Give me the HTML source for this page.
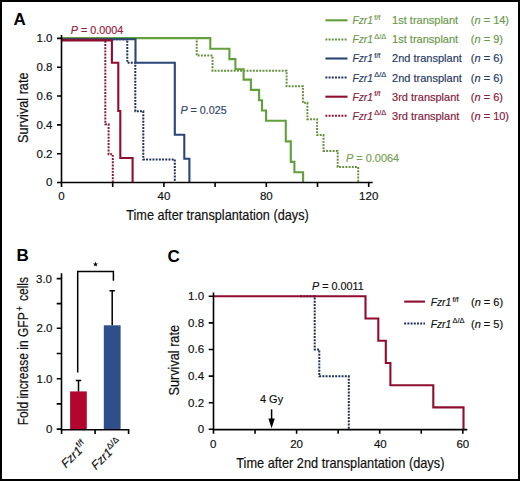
<!DOCTYPE html>
<html>
<head>
<meta charset="utf-8">
<style>
html,body{margin:0;padding:0;background:#fff;}
body{width:520px;height:481px;overflow:hidden;}
svg{display:block;font-family:"Liberation Sans",sans-serif;}
.ax{stroke:#000;stroke-width:1.6;fill:none;stroke-linecap:butt;}
.tk{font-size:11px;color:#111;fill:currentColor;stroke:currentColor;stroke-width:0.18px;}
.tt{font-size:14.6px;fill:#111;stroke:#111;stroke-width:0.2px;}
.lb{font-size:17px;font-weight:bold;fill:#000;}
.it{font-style:italic;}
.sol{fill:none;stroke-width:2.1;stroke-linejoin:miter;stroke-linecap:butt;}
.dot{fill:none;stroke-width:2;stroke-dasharray:1.95 1.25;stroke-linecap:butt;}
</style>
</head>
<body>
<svg width="520" height="481" viewBox="0 0 520 481">
<rect x="1" y="1" width="518" height="479" fill="#fff" stroke="#000" stroke-width="2"/>

<!-- ================= PANEL A ================= -->
<text class="lb" x="13.6" y="25">A</text>

<!-- curves: green -->
<path class="dot" stroke="#66903f" d="M61.5,38.1 H196.7 V55.5 H212.5 V70.7 H286.6 V86.3 H302.9 V102.8 H307.4 V119.2 H317.1 V135.1 H323.5 V151 H337.7 V167 H358.2 V182.5"/>
<path class="sol" stroke="#62a03c" d="M61.5,38.1 H210.3 V48.8 H229.4 V59.1 H235.4 V69.3 H243.6 V79.6 H250.9 V89.9 H259.1 V100.2 H262 V110.5 H266.1 V120.8 H285.8 V141.4 H290.8 V161.9 H294.4 V172.2 H303.1 V182.5"/>
<!-- blue -->
<path class="dot" stroke="#1e2e58" d="M61.5,39.3 H127.3 V62.8 H135.3 V111.2 H143.3 V159.5 H174.8 V182.5"/>
<path class="sol" stroke="#2a4676" d="M61.5,39.3 H135.5 V62.8 H174.8 V134.7 H184.3 V158.8 H189.4 V182.5"/>
<!-- red -->
<path class="dot" stroke="#8a1838" d="M61.5,39.8 H105.3 V124.3 H108.6 V154.3 H112.8 V182.5"/>
<path class="sol" stroke="#8f0e2f" d="M61.5,40.4 H111.9 V62.8 H118.3 V111 H120.3 V158 H132.6 V182.5"/>

<!-- axes A -->
<path class="ax" d="M61.5,35 V183.3 M60.7,182.5 H372.7"/>
<path class="ax" d="M57,38.4 H61.5 M57,67.2 H61.5 M57,96.0 H61.5 M57,124.9 H61.5 M57,153.7 H61.5 M57,182.5 H61.5"/>
<path class="ax" d="M61.5,182.5 V187 M112.7,182.5 V187 M163.9,182.5 V187 M215.1,182.5 V187 M266.3,182.5 V187 M317.5,182.5 V187 M368.7,182.5 V187"/>
<g class="tk" text-anchor="end" style="font-size:11.5px">
<text x="52.5" y="42.3">1.0</text>
<text x="52.5" y="71.1">0.8</text>
<text x="52.5" y="99.9">0.6</text>
<text x="52.5" y="128.8">0.4</text>
<text x="52.5" y="157.6">0.2</text>
<text x="52.5" y="186.4">0</text>
</g>
<g class="tk" text-anchor="middle" style="font-size:11.5px">
<text x="61.5" y="200.4">0</text>
<text x="163.9" y="200.4">40</text>
<text x="266.3" y="200.4">80</text>
<text x="368.7" y="200.4">120</text>
</g>
<text class="tt" x="126.2" y="219.6" textLength="182.6" lengthAdjust="spacingAndGlyphs">Time after transplantation (days)</text>
<text class="tt" transform="translate(28,143) rotate(-90)" x="0" y="0" textLength="70.5" lengthAdjust="spacingAndGlyphs">Survival rate</text>

<!-- P values A -->
<text class="tk" x="70.8" y="34" style="color:#9a2040" textLength="52.5" lengthAdjust="spacingAndGlyphs"><tspan class="it">P</tspan> = 0.0004</text>
<text class="tk" x="180.5" y="113.8" style="color:#344668" textLength="46.2" lengthAdjust="spacingAndGlyphs"><tspan class="it">P</tspan> = 0.025</text>
<text class="tk" x="346" y="161.8" style="color:#7aa055" textLength="53.2" lengthAdjust="spacingAndGlyphs"><tspan class="it">P</tspan> = 0.0064</text>

<!-- legend A -->
<path class="sol" stroke="#62a03c" d="M325.4,20.3 H347.5"/>
<path class="dot" stroke="#66903f" d="M325.4,39.4 H346.8"/>
<path class="sol" stroke="#2a4676" d="M325.4,58.5 H347.5"/>
<path class="dot" stroke="#1e2e58" d="M325.4,77.6 H346.8"/>
<path class="sol" stroke="#8f0e2f" d="M325.4,96.7 H347.5"/>
<path class="dot" stroke="#8a1838" d="M325.4,115.8 H346.8"/>
<g class="tk">
<g style="color:#6c984b"><text class="it" x="352.5" y="24.3" textLength="20.4" lengthAdjust="spacingAndGlyphs">Fzr1</text><text x="374.2" y="19.8" style="font-size:7.5px">f/f</text><text x="392.1" y="24.3">1st transplant</text><text x="470.8" y="24.3">(<tspan class="it">n</tspan> = 14)</text></g>
<g style="color:#6c984b"><text class="it" x="352.5" y="43.4" textLength="20.4" lengthAdjust="spacingAndGlyphs">Fzr1</text><text x="374.2" y="38.9" style="font-size:7.5px">Δ/Δ</text><text x="392.1" y="43.4">1st transplant</text><text x="470.8" y="43.4">(<tspan class="it">n</tspan> = 9)</text></g>
<g style="color:#283a62"><text class="it" x="352.5" y="62.4" textLength="20.4" lengthAdjust="spacingAndGlyphs">Fzr1</text><text x="374.2" y="57.9" style="font-size:7.5px">f/f</text><text x="392.1" y="62.4">2nd transplant</text><text x="470.8" y="62.4">(<tspan class="it">n</tspan> = 6)</text></g>
<g style="color:#283a62"><text class="it" x="352.5" y="81.5" textLength="20.4" lengthAdjust="spacingAndGlyphs">Fzr1</text><text x="374.2" y="77.0" style="font-size:7.5px">Δ/Δ</text><text x="392.1" y="81.5">2nd transplant</text><text x="470.8" y="81.5">(<tspan class="it">n</tspan> = 6)</text></g>
<g style="color:#85203c"><text class="it" x="352.5" y="100.5" textLength="20.4" lengthAdjust="spacingAndGlyphs">Fzr1</text><text x="374.2" y="96.0" style="font-size:7.5px">f/f</text><text x="392.1" y="100.5">3rd transplant</text><text x="470.8" y="100.5">(<tspan class="it">n</tspan> = 6)</text></g>
<g style="color:#85203c"><text class="it" x="352.5" y="119.6" textLength="20.4" lengthAdjust="spacingAndGlyphs">Fzr1</text><text x="374.2" y="115.1" style="font-size:7.5px">Δ/Δ</text><text x="392.1" y="119.6">3rd transplant</text><text x="470.8" y="119.6">(<tspan class="it">n</tspan> = 10)</text></g>
</g>

<!-- ================= PANEL B ================= -->
<text class="lb" x="16.5" y="261.3">B</text>
<rect x="70.1" y="391.4" width="16.7" height="38" fill="#b2062f"/>
<rect x="103.8" y="325.3" width="16.8" height="104.1" fill="#2e4f88"/>
<path class="ax" style="stroke-width:1.5" d="M78.5,391.4 V380.6 M75.8,380.6 H81.2 M112.2,325.3 V290.8 M109.5,290.8 H114.9"/>
<path class="ax" style="stroke-width:1.5" d="M77.7,372.4 V271.6 H113.4 V280.8"/>
<polygon points="95.50,261.60 96.15,263.41 98.07,263.47 96.55,264.64 97.09,266.48 95.50,265.40 93.91,266.48 94.45,264.64 92.93,263.47 94.85,263.41" fill="#000"/>
<path class="ax" d="M61.5,273.3 V430.5 M60.7,429.7 H129.4"/>
<path class="ax" d="M56.7,278.6 H61.5 M56.7,303.6 H61.5 M56.7,328.3 H61.5 M56.7,353.5 H61.5 M56.7,378.7 H61.5 M56.7,403.9 H61.5 M56.7,429.1 H61.5"/>
<path class="ax" d="M61.6,429.7 V434 M95.1,429.7 V434 M128.6,429.7 V434"/>
<g class="tk" text-anchor="end" style="font-size:11.5px">
<text x="52" y="282.5">3.0</text>
<text x="52.5" y="332.2">2.0</text>
<text x="52.5" y="382.6">1.0</text>
<text x="52.5" y="433">0</text>
</g>
<g transform="translate(27.5,425.3) rotate(-90)">
<text class="tt" x="0" y="0" textLength="113" lengthAdjust="spacingAndGlyphs">Fold increase in GFP</text>
<text class="tt" x="114.4" y="-4.3" style="font-size:10px;stroke-width:0.15px" textLength="4.8" lengthAdjust="spacingAndGlyphs">+</text>
<text class="tt" x="124.3" y="0" textLength="24" lengthAdjust="spacingAndGlyphs">cells</text>
</g>
<g class="tk" style="fill:#111">
<g transform="translate(65.9,468.4) rotate(-45)"><text class="it" x="0" y="0" style="font-size:12px">Fzr1</text><text x="24" y="-5" style="font-size:8.5px">f/f</text></g>
<g transform="translate(96.1,470.2) rotate(-45)"><text class="it" x="0" y="0" style="font-size:12px">Fzr1</text><text x="24" y="-5" style="font-size:8.5px">Δ/Δ</text></g>
</g>

<!-- ================= PANEL C ================= -->
<text class="lb" x="167.6" y="261.6">C</text>
<!-- curves C -->
<path class="dot" stroke="#1e2e58" d="M300,296.3 H314.7 V349.6 H319.3 V376.3 H348.8 V429.6"/>
<path class="sol" stroke="#8f0e2f" d="M213.5,296.3 H365.5 V318.5 H378.3 V340.7 H385.8 V363 H390.4 V385.2 H433.3 V407.4 H463.5 V429.6"/>
<!-- axes C -->
<path class="ax" d="M213.5,292.4 V430.4 M212.7,429.6 H467.3"/>
<path class="ax" d="M208.7,296.3 H213.5 M208.7,322.9 H213.5 M208.7,349.5 H213.5 M208.7,376.1 H213.5 M208.7,402.7 H213.5 M208.7,429.3 H213.5"/>
<path class="ax" d="M213.5,429.6 V433.8 M255.05,429.6 V433.8 M296.6,429.6 V433.8 M338.15,429.6 V433.8 M379.7,429.6 V433.8 M421.25,429.6 V433.8 M462.8,429.6 V433.8"/>
<g class="tk" text-anchor="end" style="font-size:11.5px">
<text x="204.1" y="300.2">1.0</text>
<text x="204.1" y="326.8">0.8</text>
<text x="204.1" y="353.4">0.6</text>
<text x="204.1" y="380">0.4</text>
<text x="204.1" y="406.6">0.2</text>
<text x="204.1" y="433.2">0</text>
</g>
<g class="tk" text-anchor="middle" style="font-size:11.5px">
<text x="213.3" y="447.7">0</text>
<text x="296.6" y="447.7">20</text>
<text x="380.3" y="447.7">40</text>
<text x="462.8" y="447.7">60</text>
</g>
<text class="tt" x="236.3" y="467.9" textLength="208.1" lengthAdjust="spacingAndGlyphs">Time after 2nd transplantation (days)</text>
<text class="tt" transform="translate(178.75,395.5) rotate(-90)" x="0" y="0" textLength="70.5" lengthAdjust="spacingAndGlyphs">Survival rate</text>
<text class="tk" x="312" y="289.7" textLength="51.8" lengthAdjust="spacingAndGlyphs"><tspan class="it">P</tspan> = 0.0011</text>
<text class="tk" x="260" y="402.8" textLength="23.1" lengthAdjust="spacingAndGlyphs">4 Gy</text>
<path d="M271.6,409.3 V420" stroke="#000" stroke-width="1.5"/>
<path d="M268.4,418.6 L274.8,418.6 L271.6,428.2 Z" fill="#000"/>
<!-- legend C -->
<path class="sol" stroke="#8f0e2f" d="M404.2,301.6 H425"/>
<path class="dot" stroke="#1e2e58" d="M404.2,323.6 H425"/>
<g class="tk">
<text x="430.7" y="306.4" class="it" textLength="20.4" lengthAdjust="spacingAndGlyphs">Fzr1</text><text x="452.4" y="301.9" style="font-size:7.5px">f/f</text>
<text x="471" y="306.4">(<tspan class="it">n</tspan> = 6)</text>
<text x="430.7" y="327.9" class="it" textLength="20.4" lengthAdjust="spacingAndGlyphs">Fzr1</text><text x="452.4" y="323.4" style="font-size:7.5px">Δ/Δ</text>
<text x="471" y="327.9">(<tspan class="it">n</tspan> = 5)</text>
</g>

</svg>
</body>
</html>
